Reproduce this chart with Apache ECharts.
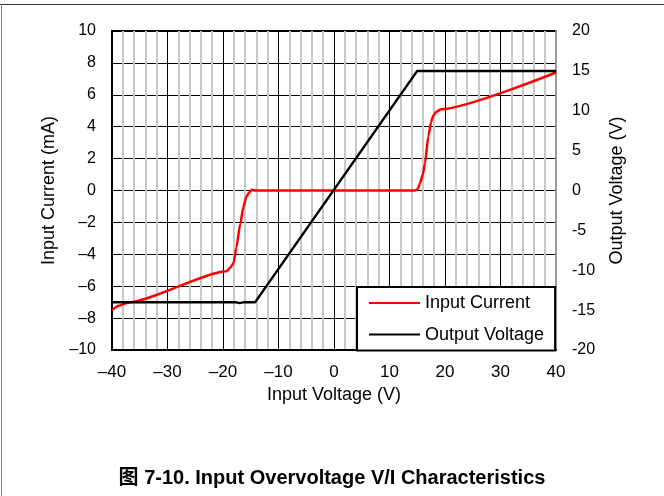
<!DOCTYPE html>
<html>
<head>
<meta charset="utf-8">
<script src="https://cdn.jsdelivr.net/npm/echarts@6/dist/echarts.min.js"></script>
<style>
  html, body { margin: 0; padding: 0; background: #fff; }
  #chart { width: 664px; height: 496px; }
</style>
</head>
<body>
<div id="chart"></div>
<script>
// 输入电流曲线 (V, mA)
var currentX = [-40, -38.8, -37, -19.4, -18.7, -18.1, -17.6, -16.9, -16.3, -15.8, -15.3, -14.8, -14.2,
    14.6, 15.1, 15.5, 16.0, 16.4, 17.0, 17.5, 17.9, 18.5, 19.3, 40];
var currentY = [-7.5, -7.22, -7.02, -5.07, -4.85, -4.55, -3.6, -2.1, -1.0, -0.4, -0.12, 0.04, 0,
    0, 0.1, 0.45, 1.0, 1.7, 3.4, 4.3, 4.7, 4.95, 5.1, 7.4];
// 输出电压曲线 (V, V)
var outputX = [-40, -17.8, -17, -16.2, -14.2, 15, 40];
var outputY = [-14, -14, -14.12, -14, -14, 15, 15];

var leftTicks = [-10, 10, 2];
var rightTicks = [-20, 20, 5];
var xTicks = [-40, 40, 10];

var FONT = "'Liberation Sans', Arial, 'Noto Sans CJK SC', sans-serif";

function zip(a, b) {
    return a.map(function (v, i) { return [v, b[i]]; });
}
function dash(v) {
    return String(v).replace('-', '\u2013');
}

var myChart = echarts.init(document.getElementById('chart'));
var option = {
    backgroundColor: '#fff',
    animation: false,
    title: {
        text: '图 7-10. Input Overvoltage V/I Characteristics',
        left: 'center',
        top: 463,
        textStyle: {fontFamily: FONT, fontSize: 20, fontWeight: 'bold', color: '#000'}
    },
    graphic: [
        {type: 'line', shape: {x1: 0, y1: 4.5, x2: 664, y2: 4.5}, style: {stroke: '#333', lineWidth: 1}},
        {type: 'line', shape: {x1: 1.5, y1: 4, x2: 1.5, y2: 496}, style: {stroke: '#888', lineWidth: 1}}
    ],
    legend: {
        orient: 'vertical',
        left: 357,
        top: 287,
        padding: [7, 11, 7, 12],
        itemGap: 13.6,
        itemWidth: 51,
        itemHeight: 2,
        icon: 'rect',
        backgroundColor: '#fff',
        borderColor: '#000',
        borderWidth: 2,
        borderRadius: 0,
        textStyle: {fontFamily: FONT, fontSize: 18, color: '#000', lineHeight: 18},
        data: ['Input Current', 'Output Voltage']
    },
    grid: {
        left: 112, right: 108, top: 31, bottom: 146,
        show: true, borderColor: '#000', borderWidth: 2
    },
    xAxis: {
        type: 'value',
        min: xTicks[0], max: xTicks[1], interval: xTicks[2],
        name: 'Input Voltage (V)',
        nameLocation: 'middle',
        nameGap: 34,
        nameTextStyle: {fontFamily: FONT, fontSize: 18, color: '#000'},
        axisLine: {show: true, onZero: false, lineStyle: {color: '#000', width: 2}},
        axisTick: {show: false},
        axisLabel: {margin: 14, fontFamily: FONT, fontSize: 17, color: '#000', formatter: dash},
        splitLine: {show: true, lineStyle: {color: '#000', width: 1}},
        minorTick: {show: false, splitNumber: 5},
        minorSplitLine: {show: true, lineStyle: {color: '#c8c8c8', width: 2}}
    },
    yAxis: [
        {
            type: 'value',
            min: leftTicks[0], max: leftTicks[1], interval: leftTicks[2],
            name: 'Input Current (mA)',
            nameLocation: 'middle',
            nameGap: 52,
            nameTextStyle: {fontFamily: FONT, fontSize: 18, color: '#000'},
            axisLine: {show: true, onZero: false, lineStyle: {color: '#000', width: 2}},
            axisTick: {show: false},
            axisLabel: {margin: 16, fontFamily: FONT, fontSize: 16, color: '#000', formatter: dash},
            splitLine: {show: true, lineStyle: {color: '#000', width: 1}}
        },
        {
            type: 'value',
            position: 'right',
            min: rightTicks[0], max: rightTicks[1], interval: rightTicks[2],
            name: 'Output Voltage (V)',
            nameLocation: 'middle',
            nameGap: 52,
            nameTextStyle: {fontFamily: FONT, fontSize: 18, color: '#000'},
            axisLine: {show: true, onZero: false, lineStyle: {color: '#999', width: 2}},
            axisTick: {show: false},
            axisLabel: {margin: 16, fontFamily: FONT, fontSize: 16, color: '#000'},
            splitLine: {show: false}
        }
    ],
    series: [
        {
            name: 'Input Current',
            type: 'line',
            yAxisIndex: 0,
            showSymbol: false,
            smooth: 0.2,
            smoothMonotone: 'x',
            color: '#ff0000',
            lineStyle: {color: '#ff0000', width: 2.5},
            data: zip(currentX, currentY)
        },
        {
            name: 'Output Voltage',
            type: 'line',
            yAxisIndex: 1,
            showSymbol: false,
            color: '#000',
            lineStyle: {color: '#000', width: 2.5},
            data: zip(outputX, outputY)
        }
    ]
};
myChart.setOption(option);
</script>
</body>
</html>
